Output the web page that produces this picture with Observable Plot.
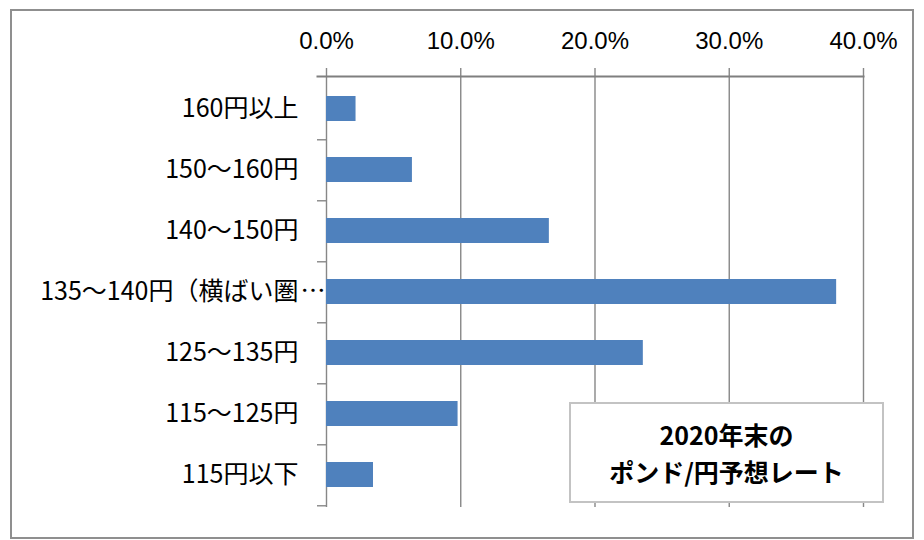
<!DOCTYPE html>
<html>
<head>
<meta charset="utf-8">
<script src="https://cdn.jsdelivr.net/npm/d3@7"></script>
<script src="https://cdn.jsdelivr.net/npm/@observablehq/plot@0.6"></script>
<style>
  body { margin: 0; background: #fff; }
  #wrap { position: relative; width: 924px; height: 540px; overflow: hidden; }
  #border { position: absolute; left: 10px; top: 9px; width: 900px; height: 526px; border: 2px solid #8f8f8f; box-sizing: content-box; pointer-events: none; }
  #note { position: absolute; left: 569px; top: 402px; width: 311px; height: 97px; border: 2px solid #c3c3c3; background: #fff;
          display: flex; flex-direction: column; align-items: center; justify-content: center;
          font-family: "Noto Sans CJK JP", sans-serif; font-weight: bold; font-size: 25px; line-height: 37px; color: #000; }
</style>
</head>
<body>
<div id="wrap">
  <div id="chart"></div>
  <div id="border"></div>
  <div id="note"><div>2020年末の</div><div>ポンド/円予想レート</div></div>
</div>
<script>
const categories = ["160円以上", "150〜160円", "140〜150円", "135〜140円（横ばい圏…", "125〜135円", "115〜125円", "115円以下"];
const values = [2.2, 6.4, 16.6, 38.0, 23.6, 9.8, 3.5];
const xTicks = [0, 10, 20, 30, 40];

const data = categories.map((c, i) => ({category: c, value: values[i]}));

const W = 924, H = 540;
const mTop = 76, mBottom = 33, mLeft = 326, mRight = 61;
const bw = (H - mTop - mBottom) / categories.length;
const gray = "#878787";
const labelFont = "'Noto Sans CJK JP', sans-serif";

const chart = Plot.plot({
  width: W,
  height: H,
  marginTop: mTop,
  marginBottom: mBottom,
  marginLeft: mLeft,
  marginRight: mRight,
  style: {background: "transparent", overflow: "visible"},
  x: {domain: [0, 40], axis: null},
  y: {domain: categories, paddingInner: 0.59, paddingOuter: 0.295, axis: null},
  marks: [
    Plot.ruleX(xTicks, {x: d => d, stroke: gray, strokeWidth: 1.4, insetTop: -8}),
    Plot.frame({anchor: "top", stroke: "#7f7f7f", strokeWidth: 2, strokeOpacity: 1, insetLeft: -9}),
    Plot.ruleY(categories, {y: d => d, x1: 0, x2: 0, dy: bw / 2, insetLeft: -9, stroke: gray, strokeWidth: 1.4}),
    Plot.barX(data, {y: "category", x1: 0, x2: "value", fill: "#4f81bd"}),
    Plot.text(xTicks, {x: d => d, text: d => d.toFixed(1) + "%", frameAnchor: "top", dy: -35,
      fontFamily: "'Liberation Sans', Arial, sans-serif", fontSize: 24, fill: "#000", textAnchor: "middle", lineAnchor: "middle"}),
    Plot.text(categories, {y: d => d, x: 0, text: d => d.replace("…", ""), dx: -28, textAnchor: "end",
      fontFamily: labelFont, fontSize: 25, fill: "#000"}),
    Plot.text(categories.filter(d => d.endsWith("…")), {y: d => d, x: 0, text: () => "…", dx: -26, textAnchor: "start",
      fontFamily: labelFont, fontSize: 25, fill: "#000"})
  ]
});
document.getElementById("chart").appendChild(chart);
</script>
</body>
</html>
